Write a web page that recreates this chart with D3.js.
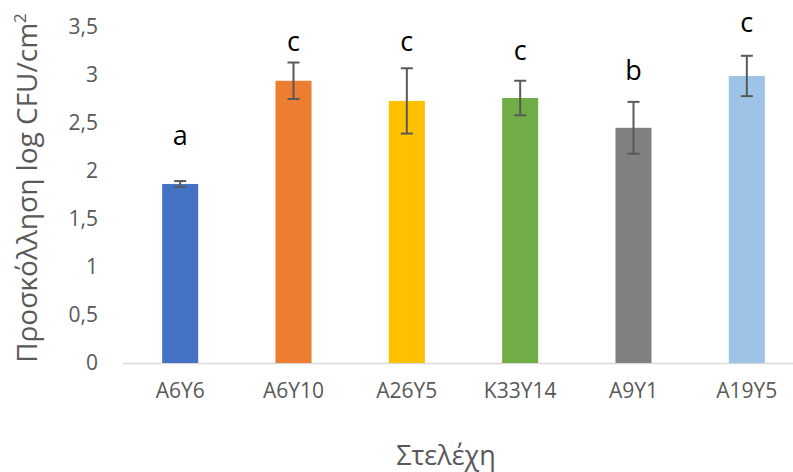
<!DOCTYPE html>
<html><head><meta charset="utf-8">
<script src="https://cdn.jsdelivr.net/npm/d3@7"></script>
<style>body{margin:0;background:#fff}svg{display:block}</style>
</head><body>
<svg id="c" width="793" height="472"></svg>
<script>
const categories = ["A6Y6","A6Y10","A26Y5","K33Y14","A9Y1","A19Y5"];
const values = [1.865, 2.94, 2.73, 2.76, 2.45, 2.99];
const errors = [0.03, 0.19, 0.34, 0.18, 0.27, 0.21];
const letters = ["a","c","c","c","b","c"];
const letterPos = [2.36, 3.33, 3.33, 3.24, 3.03, 3.53];
const colors = ["#4472C4","#ED7D31","#FFC000","#70AD47","#808080","#9DC3E6"];
const yTicks = [0,0.5,1,1.5,2,2.5,3,3.5];

const svg = d3.select("#c");
const font = "'Open Sans', sans-serif";
const x = d3.scaleBand().domain(categories).range([123.5, 803.5]).paddingInner(0.682).paddingOuter(0.341);
const y = d3.scaleLinear().domain([0,3.5]).range([363,27]);

// axis line
svg.append("line").attr("x1",123).attr("x2",793).attr("y1",y(0)+0.5).attr("y2",y(0)+0.5)
  .attr("stroke","#D9D9D9").attr("stroke-width",1.3);

// y tick labels
const ya = d3.axisLeft(y).tickValues(yTicks).tickSize(0).tickPadding(0)
  .tickFormat(d => String(d).replace(".", ","));
const gy = svg.append("g").attr("transform","translate(98,0)").call(ya);
gy.select(".domain").remove();
gy.selectAll("text").attr("font-family",font).attr("font-size",21).attr("fill","#595959");

// x labels
const xa = d3.axisBottom(x).tickSize(0).tickPadding(0);
const gx = svg.append("g").attr("transform",`translate(0,${y(0)+27})`).call(xa);
gx.select(".domain").remove();
gx.selectAll("text").attr("font-family",font).attr("font-size",21).attr("fill","#595959").attr("dy","0.36em");

// bars
svg.selectAll("rect.bar").data(categories).join("rect")
  .attr("x", d => x(d)).attr("width", x.bandwidth())
  .attr("y", (d,i) => y(values[i])).attr("height", (d,i) => y(0)-y(values[i]))
  .attr("fill", (d,i) => colors[i]);

// error bars
const eg = svg.append("g").attr("stroke","#595959").attr("stroke-width",2);
categories.forEach((d,i) => {
  const cx = x(d) + x.bandwidth()/2;
  const t = y(values[i]+errors[i]), b = y(values[i]-errors[i]);
  eg.append("line").attr("x1",cx).attr("x2",cx).attr("y1",t).attr("y2",b);
  eg.append("line").attr("x1",cx-6).attr("x2",cx+6).attr("y1",t).attr("y2",t);
  eg.append("line").attr("x1",cx-6).attr("x2",cx+6).attr("y1",b).attr("y2",b);
});

// letters
svg.selectAll("text.let").data(categories).join("text")
  .attr("x", d => x(d) + x.bandwidth()/2).attr("y", (d,i) => y(letterPos[i]))
  .attr("dy","0.3em").attr("text-anchor","middle")
  .attr("font-family",font).attr("font-size",27).attr("fill","#000")
  .text((d,i) => letters[i]);

// y title
const yt = svg.append("text").attr("transform","translate(37,188) rotate(-90)")
  .attr("text-anchor","middle").attr("font-family",font).attr("font-size",28).attr("fill","#595959");
yt.append("tspan").text("Προσκόλληση log CFU/cm");
yt.append("tspan").attr("dy",-11).attr("font-size",17).text("2");

// x title
svg.append("text").attr("x",446).attr("y",465).attr("text-anchor","middle")
  .attr("font-family",font).attr("font-size",27).attr("fill","#595959").text("Στελέχη");
</script>
</body></html>
